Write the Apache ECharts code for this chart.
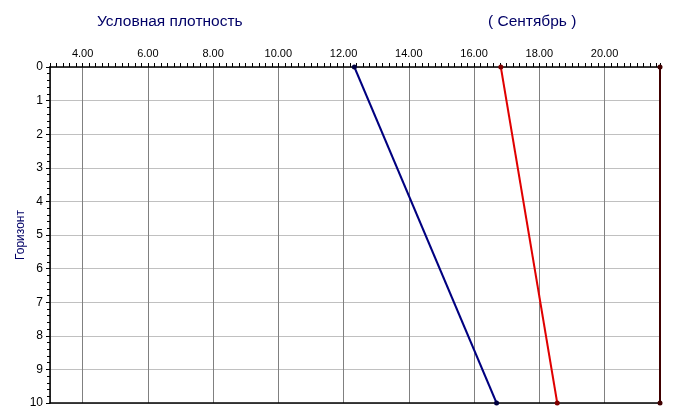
<!DOCTYPE html>
<html>
<head>
<meta charset="utf-8">
<script src="https://cdn.jsdelivr.net/npm/echarts@6/dist/echarts.min.js"></script>
<style>
html,body{margin:0;padding:0;background:#fff;}
#chart{width:675px;height:419px;}
</style>
</head>
<body>
<div id="chart"></div>
<script>
// Data
var horizons = [0, 10];
var blueValues = [12.33, 16.69];
var redValues = [16.82, 18.55];
var edgeValues = [21.7, 21.7];
var titleLeft = 'Условная плотность';
var titleRight = '( Сентябрь )';
var yName = 'Горизонт';
var xMin = 3, xMax = 21.7;
var yMin = 0, yMax = 10;

function pairs(xs) { return xs.map(function (v, i) { return [v, horizons[i]]; }); }

var FONT = 'Liberation Sans, Arial, sans-serif';
var chart = echarts.init(document.getElementById('chart'), null, {renderer: 'canvas'});
chart.setOption({
  backgroundColor: '#ffffff',
  animation: false,
  grid: {left: 50, right: 15, top: 67, bottom: 16, containLabel: false},
  graphic: [
    {type: 'text', left: 97, top: 14, style: {text: titleLeft, fill: '#000066', font: '15.5px ' + FONT}},
    {type: 'text', left: 488, top: 14, style: {text: titleRight, fill: '#000066', font: '15.5px ' + FONT}},
    {type: 'text', x: 21, y: 235, rotation: Math.PI / 2,
      style: {text: yName, fill: '#000066', font: '12px ' + FONT, align: 'center', verticalAlign: 'middle'}}
  ],
  xAxis: [{
    type: 'value', position: 'top', min: xMin, max: xMax,
    splitNumber: 9, minInterval: 2, maxInterval: 2,
    axisLine: {show: true, lineStyle: {color: '#000', width: 1.5}},
    axisTick: {show: true, length: 4, lineStyle: {color: '#000'}},
    minorTick: {show: true, splitNumber: 10, length: 4, lineStyle: {color: '#000'}},
    axisLabel: {show: true, margin: 8, color: '#000', fontSize: 11, fontFamily: FONT,
      showMinLabel: false, showMaxLabel: false,
      formatter: function (v) { return v.toFixed(2); }},
    splitLine: {show: true, lineStyle: {color: '#808080', width: 1}}
  }, {
    type: 'value', position: 'bottom', min: xMin, max: xMax,
    axisLine: {show: true, onZero: false, lineStyle: {color: '#000', width: 1.5}},
    axisTick: {show: false}, axisLabel: {show: false}, splitLine: {show: false}
  }],
  yAxis: {
    type: 'value', inverse: true, min: yMin, max: yMax, interval: 1,
    axisLine: {show: true, lineStyle: {color: '#000', width: 1.5}},
    axisTick: {show: true, length: 4, lineStyle: {color: '#000'}},
    minorTick: {show: true, splitNumber: 5, length: 3, lineStyle: {color: '#000'}},
    axisLabel: {margin: 7, color: '#000', fontSize: 12, fontFamily: FONT},
    splitLine: {show: true, lineStyle: {color: '#c0c0c0', width: 1}}
  },
  series: [
    {type: 'line', data: pairs(blueValues), symbol: 'circle', symbolSize: 5,
      lineStyle: {color: '#000080', width: 2}, itemStyle: {color: '#000040'}},
    {type: 'line', data: pairs(redValues), symbol: 'circle', symbolSize: 5,
      lineStyle: {color: '#e00000', width: 2}, itemStyle: {color: '#800000'}},
    {type: 'line', data: pairs(edgeValues), symbol: 'circle', symbolSize: 5,
      lineStyle: {color: '#400000', width: 2}, itemStyle: {color: '#400000'}}
  ]
});
</script>
</body>
</html>
